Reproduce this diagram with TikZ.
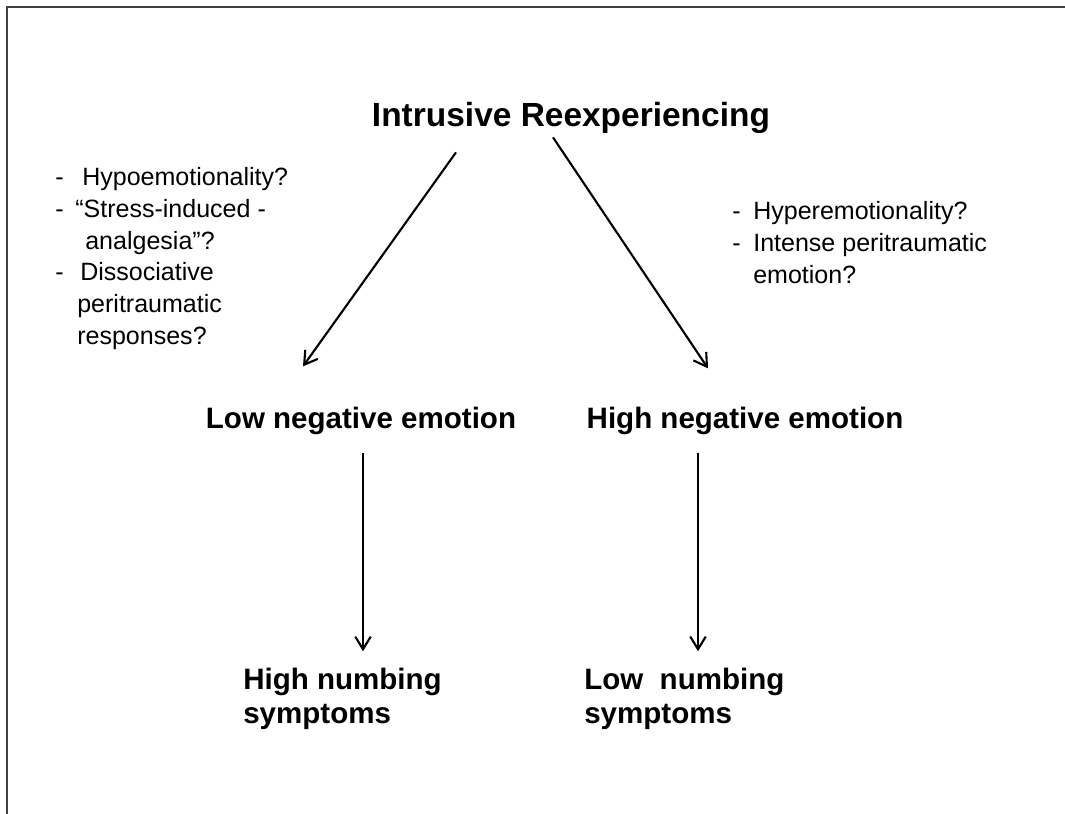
\documentclass[tikz,border=0pt]{standalone}
\usepackage{fontspec}
\setmainfont{Liberation Sans}
\usetikzlibrary{arrows.meta, positioning}

\begin{document}
\begin{tikzpicture}[
    x=0.025cm, y=-0.025cm,
    heading/.style={inner sep=0pt, anchor=base, font=\fontsize{23.8}{27}\selectfont\bfseries},
    outcome/.style={inner sep=0pt, anchor=base, font=\fontsize{21}{23.5}\selectfont\bfseries},
    symptom/.style={inner sep=0pt, anchor=base west, align=left, font=\fontsize{21}{23.5}\selectfont\bfseries},
    notes/.style={inner sep=0pt, anchor=base west, align=left, font=\fontsize{17.8}{22.5}\selectfont},
    arrow/.style={-{Straight Barb[length=9pt, width=11pt]}, line width=1.5pt, draw=black}
]
    \useasboundingbox (0,0) rectangle (1065,814);

    % Frame
    \draw[line width=1pt, black!75] (7,814) -- (7,7) -- (1065,7);

    % Title
    \node[heading] (intrusive) at (571,127) {Intrusive Reexperiencing};

    % Left notes (placed by last baseline)
    \node[notes] (hypo) at (55,344) {
        \makebox[0.675cm][l]{-}Hypoemotionality?\\
        \makebox[0.5cm][l]{-}“Stress-induced -\\
        \hspace*{0.75cm}analgesia”?\\
        \makebox[0.625cm][l]{-}Dissociative\\
        \hspace*{0.55cm}peritraumatic\\
        \hspace*{0.55cm}responses?
    };

    % Right notes
    \node[notes] (hyper) at (732,283) {
        \makebox[0.525cm][l]{-}Hyperemotionality?\\
        \makebox[0.525cm][l]{-}Intense peritraumatic\\
        \hspace*{0.525cm}emotion?
    };

    % Emotion level
    \node[outcome] (lowneg) at (361,428) {Low negative emotion};
    \node[outcome] (highneg) at (745,428) {High negative emotion};

    % Numbing
    \node[symptom] (highnumb) at (243,723) {High numbing\\symptoms};
    \node[symptom] (lownumb) at (584,723) {Low~ numbing\\symptoms};

    % Arrows
    \draw[arrow] ([shift={(-115,18)}]intrusive.south) -- ([shift={(-58,-40)}]lowneg.north);
    \draw[arrow] ([shift={(-18,3)}]intrusive.south) -- ([shift={(-37,-38)}]highneg.north);
    \draw[arrow] ([shift={(2,18)}]lowneg.south) -- ([shift={(2,-17)}]highnumb.north -| lowneg.south);
    \draw[arrow] ([shift={(-47,18)}]highneg.south) -- ([shift={(-47,-17)}]lownumb.north -| highneg.south);

\end{tikzpicture}
\end{document}
